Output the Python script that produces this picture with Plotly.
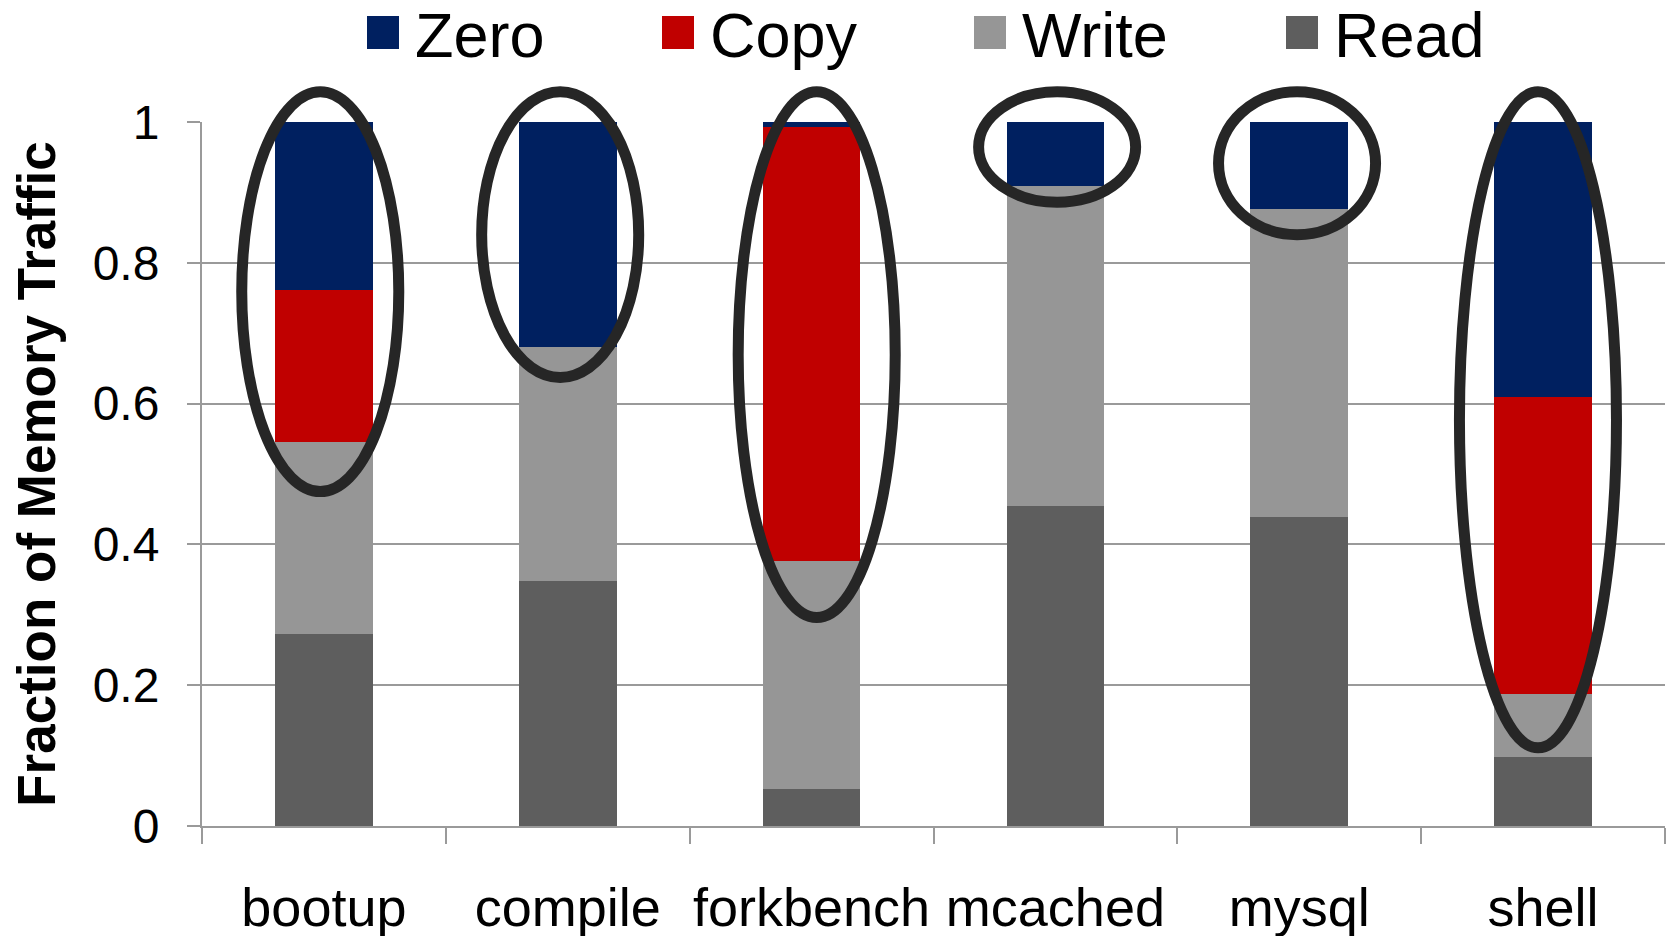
import plotly.graph_objects as go

# Workloads on the x axis
categories = ["bootup", "compile", "forkbench", "mcached", "mysql", "shell"]

# Fraction of memory traffic per operation type (stacked bottom to top)
read_frac = [0.273, 0.348, 0.053, 0.454, 0.439, 0.098]
write_frac = [0.272, 0.333, 0.324, 0.455, 0.437, 0.090]
copy_frac = [0.216, 0.000, 0.616, 0.000, 0.000, 0.421]
zero_frac = [0.239, 0.319, 0.007, 0.091, 0.124, 0.391]

y_ticks = [0, 0.2, 0.4, 0.6, 0.8, 1]
y_tick_text = ["0", "0.2", "0.4", "0.6", "0.8", "1"]

# Highlight ellipses: (category centre, bottom value, top value)
highlights = [
    (-0.015, 0.475, 1.043),
    (0.969, 0.637, 1.043),
    (2.021, 0.296, 1.043),
    (3.007, 0.886, 1.043),
    (3.991, 0.840, 1.043),
    (4.979, 0.111, 1.043),
]
ELLIPSE_HALF_WIDTH = 0.322

FONT = "Arial, Liberation Sans, sans-serif"
series = [
    ("Read", read_frac, "#5e5e5e"),
    ("Write", write_frac, "#969696"),
    ("Copy", copy_frac, "#c00000"),
    ("Zero", zero_frac, "#002060"),
]

fig = go.Figure()
for name, vals, color in series:
    fig.add_trace(go.Bar(
        name=name, x=categories, y=vals, width=0.4,
        marker=dict(color=color, line=dict(width=0)),
        showlegend=False,
    ))

n = len(categories)
shapes = []
for cx, lo, hi in highlights:
    shapes.append(dict(
        type="circle", xref="x domain", yref="y domain",
        x0=(cx + 0.5 - ELLIPSE_HALF_WIDTH) / n, x1=(cx + 0.5 + ELLIPSE_HALF_WIDTH) / n,
        y0=lo, y1=hi,
        line=dict(color="#262626", width=11), fillcolor="rgba(0,0,0,0)",
        layer="above",
    ))

# Custom legend across the top: square swatch + label
W, H = 1669, 936
ml, mr, mt, mb = 202, 4, 122, 110
pw, ph = W - ml - mr, H - mt - mb
legend_items = [("Zero", "#002060", 367), ("Copy", "#c00000", 662),
                ("Write", "#969696", 974), ("Read", "#5e5e5e", 1286)]
annotations = []
for label, color, px in legend_items:
    sx0 = (px - ml) / pw
    sx1 = (px + 32 - ml) / pw
    sy0 = (H - mb - 49) / ph
    sy1 = (H - mb - 16) / ph
    shapes.append(dict(type="rect", xref="paper", yref="paper",
                       x0=sx0, x1=sx1, y0=sy0, y1=sy1,
                       fillcolor=color, line=dict(width=0)))
    annotations.append(dict(
        xref="paper", yref="paper", x=(px + 46 - ml) / pw, y=(H - mb - 35) / ph,
        xanchor="left", yanchor="middle", text=label, showarrow=False,
        font=dict(family=FONT, size=63, color="black"),
    ))

fig.update_layout(
    width=W, height=H,
    margin=dict(l=ml, r=mr, t=mt, b=mb, autoexpand=False),
    paper_bgcolor="white", plot_bgcolor="white",
    barmode="stack",
    shapes=shapes,
    annotations=annotations,
    xaxis=dict(
        type="category", tickson="boundaries", ticks="outside", ticklen=16,
        tickcolor="#9a9a9a", tickwidth=2,
        showline=True, linecolor="#9a9a9a", linewidth=2,
        showgrid=False, tickangle=0,
        tickfont=dict(family=FONT, size=54, color="black"),
        ticklabelstandoff=33,
    ),
    yaxis=dict(
        range=[0, 1], tickvals=y_ticks, ticktext=y_tick_text,
        ticks="outside", ticklen=13, tickcolor="#9a9a9a", tickwidth=2,
        showline=True, linecolor="#9a9a9a", linewidth=2,
        showgrid=True, gridcolor="#9a9a9a", gridwidth=2,
        zeroline=False,
        tickfont=dict(family=FONT, size=48, color="black"),
        ticklabelstandoff=18,
        title=dict(text="<b>Fraction of Memory Traffic</b>", standoff=20,
                   font=dict(family=FONT, size=53, color="black")),
    ),
)

fig.write_html("out.html")
